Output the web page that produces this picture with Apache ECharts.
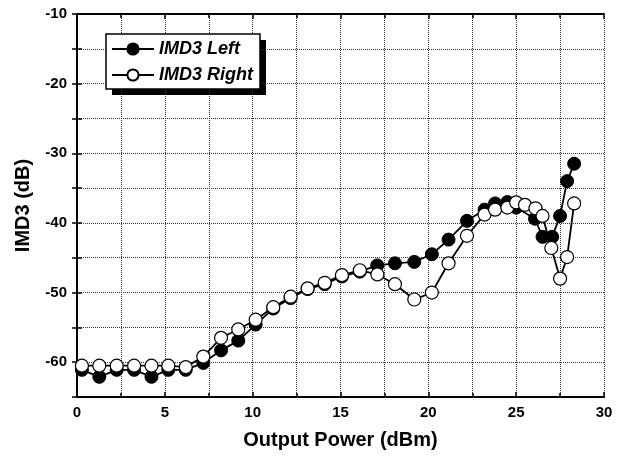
<!DOCTYPE html>
<html><head><meta charset="utf-8">
<script src="https://cdn.jsdelivr.net/npm/echarts@6/dist/echarts.min.js"></script>
<style>html,body{margin:0;padding:0;background:#fff}#c{width:622px;height:458px}</style>
</head><body><div id="c"></div>
<script>
var leftX = [0.28,1.27,2.26,3.25,4.24,5.2,6.19,7.19,8.2,9.18,10.17,11.17,12.16,13.13,14.1,15.08,16.1,17.09,18.1,19.2,20.2,21.15,22.2,23.2,23.8,24.5,25.0,26.07,26.5,27.05,27.5,27.9,28.3];
var leftY = [-61.1,-62.1,-61.1,-61.1,-62.1,-61.1,-61.1,-60.1,-58.3,-56.9,-54.6,-52.3,-50.8,-49.5,-48.8,-47.7,-47.0,-46.1,-45.8,-45.6,-44.5,-42.4,-39.7,-38.1,-37.2,-37.0,-37.8,-39.4,-42.0,-42.0,-39.0,-34.0,-31.5];
var rightX = [0.28,1.27,2.26,3.25,4.24,5.2,6.19,7.19,8.2,9.18,10.17,11.17,12.16,13.13,14.1,15.08,16.1,17.1,18.1,19.2,20.2,21.15,22.2,23.2,23.8,24.5,25.0,25.5,26.1,26.5,27.0,27.5,27.9,28.3];
var rightY = [-60.5,-60.5,-60.5,-60.5,-60.5,-60.5,-60.7,-59.2,-56.5,-55.3,-53.9,-52.1,-50.6,-49.4,-48.6,-47.5,-46.8,-47.4,-48.8,-51.0,-50.0,-45.8,-41.85,-38.8,-38.1,-37.8,-37.05,-37.4,-37.9,-39.0,-43.6,-48.0,-44.9,-37.2];
var xTicks = [0,5,10,15,20,25,30];
var yTicks = [-60,-50,-40,-30,-20,-10];

function pairs(xs, ys){ return xs.map(function(x,i){ return [x, ys[i]]; }); }
var FONT = 'Liberation Sans, Arial, sans-serif';
function dotted(){ return {show:true, lineStyle:{color:'#333', type:'dotted', width:1}}; }
var chart = echarts.init(document.getElementById('c'));
chart.setOption({
  animation:false,
  backgroundColor:'#fff',
  grid:{left:77, right:18, top:14, bottom:61},
  graphic:[{type:'rect', shape:{x:112, y:40, width:154, height:55}, style:{fill:'#000'}, z:0}],
  legend:{
    orient:'vertical', left:106, top:34,
    backgroundColor:'#fff', borderColor:'#000', borderWidth:1.5,
    padding:[6,7,5,5], itemGap:8, itemWidth:42, itemHeight:14,
    textStyle:{fontFamily:FONT, fontSize:18, fontWeight:'bold', fontStyle:'italic', color:'#000'},
    data:['IMD3 Left','IMD3 Right'], z:5
  },
  xAxis:[{
    type:'value', min:0, max:30, interval:5,
    name:'Output Power (dBm)', nameLocation:'middle', nameGap:33,
    nameTextStyle:{fontFamily:FONT, fontSize:20, fontWeight:'bold', color:'#000'},
    axisLine:{show:true, lineStyle:{color:'#000', width:2}},
    axisTick:{show:true, inside:true, length:5, lineStyle:{color:'#000', width:1.5}},
    minorTick:{show:true, splitNumber:2, length:4, lineStyle:{color:'#000', width:1.5}},
    axisLabel:{fontFamily:FONT, fontSize:15, fontWeight:'bold', color:'#000', margin:8,
      formatter:function(v){ return xTicks.indexOf(v)>=0 ? String(v) : ''; }},
    splitLine:dotted(),
    minorSplitLine:dotted()
  },{
    type:'value', position:'top', min:0, max:30, interval:5,
    axisLine:{show:true, lineStyle:{color:'#000', width:2}},
    axisTick:{show:true, inside:true, length:5, lineStyle:{color:'#000', width:1.5}},
    minorTick:{show:true, splitNumber:2, length:4, lineStyle:{color:'#000', width:1.5}},
    axisLabel:{show:false}, splitLine:{show:false}
  }],
  yAxis:[{
    type:'value', min:-65, max:-10, interval:5,
    name:'IMD3 (dB)', nameLocation:'middle', nameGap:44,
    nameTextStyle:{fontFamily:FONT, fontSize:20, fontWeight:'bold', color:'#000'},
    axisLine:{show:true, lineStyle:{color:'#000', width:2}},
    axisTick:{show:true, inside:true, length:5, lineStyle:{color:'#000', width:1.5}},
    axisLabel:{fontFamily:FONT, fontSize:15, fontWeight:'bold', color:'#000', margin:10,
      formatter:function(v){ return yTicks.indexOf(v)>=0 ? String(v) : ''; }},
    splitLine:dotted()
  },{
    type:'value', position:'right', min:-65, max:-10, interval:5,
    axisLine:{show:true, lineStyle:{color:'#000', width:2}},
    axisTick:{show:true, inside:true, length:5, lineStyle:{color:'#000', width:1.5}},
    axisLabel:{show:false}, splitLine:{show:false}
  }],
  series:[{
    name:'IMD3 Left', type:'line', data:pairs(leftX,leftY),
    symbol:'circle', symbolSize:13, z:3,
    lineStyle:{color:'#000', width:1.8},
    itemStyle:{color:'#000', borderColor:'#000', borderWidth:1}
  },{
    name:'IMD3 Right', type:'line', data:pairs(rightX,rightY),
    symbol:'circle', symbolSize:13, z:4,
    lineStyle:{color:'#000', width:1.8},
    itemStyle:{color:'#fff', borderColor:'#000', borderWidth:1.2}
  }]
});
</script></body></html>
